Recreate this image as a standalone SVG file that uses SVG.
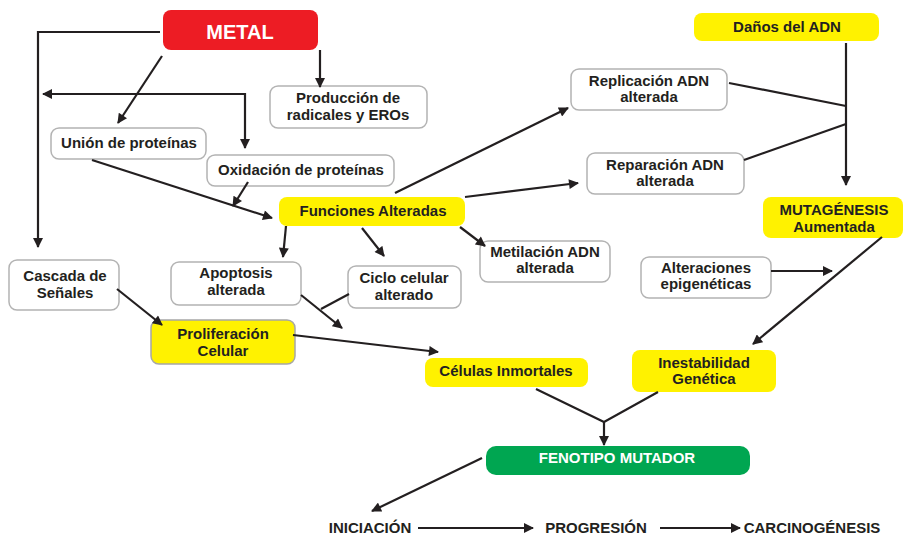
<svg xmlns="http://www.w3.org/2000/svg" width="904" height="536" viewBox="0 0 904 536">
<style>
.bx{fill:#ffffff;stroke:#b3b3b3;stroke-width:1.5}
.yl{fill:#fff200;stroke:none}
.ylb{fill:#fff200;stroke:#a7a7a7;stroke-width:1.5}
.t{font-family:"Liberation Sans",Arial,sans-serif;font-weight:bold;font-size:15px;fill:#231f20;text-anchor:middle}
.w{fill:#ffffff}
.c{fill:none;stroke:#231f20;stroke-width:2.2}
</style>
<defs>
<marker id="ah" viewBox="0 0 10 10" refX="9" refY="5" markerWidth="11" markerHeight="10" markerUnits="userSpaceOnUse" orient="auto-start-reverse">
<path d="M0,0 L10,5 L0,10 Z" fill="#231f20"/>
</marker>
</defs>
<rect width="904" height="536" fill="#ffffff"/>
<g id="metal"><rect x="163" y="10" width="155" height="40" rx="8" fill="#ed1c24"/><text class="t w" x="240" y="39" style="font-size:20px">METAL</text></g>
<g id="produccion"><rect class="bx" x="270" y="86" width="157" height="42" rx="8"/><text class="t" x="348" y="103">Producción de</text><text class="t" x="348" y="120">radicales y EROs</text></g>
<g id="union"><rect class="bx" x="51" y="128" width="155" height="31" rx="8"/><text class="t" x="129" y="148">Unión de proteínas</text></g>
<g id="oxidacion"><rect class="bx" x="207" y="155" width="187" height="31" rx="8"/><text class="t" x="301" y="175">Oxidación de proteínas</text></g>
<g id="funciones"><rect class="yl" x="279" y="197" width="186" height="29" rx="8"/><text class="t" x="373" y="216">Funciones Alteradas</text></g>
<g id="replicacion"><rect class="bx" x="571" y="69" width="156" height="41" rx="8"/><text class="t" x="649" y="86">Replicación ADN</text><text class="t" x="649" y="102">alterada</text></g>
<g id="reparacion"><rect class="bx" x="587" y="153" width="157" height="41" rx="8"/><text class="t" x="665" y="170">Reparación ADN</text><text class="t" x="665" y="186">alterada</text></g>
<g id="danos"><rect class="yl" x="694" y="13" width="185" height="28" rx="8"/><text class="t" x="787" y="32">Daños del ADN</text></g>
<g id="mutagenesis"><rect class="yl" x="763" y="197" width="140" height="41" rx="8"/><text class="t" x="834" y="215">MUTAGÉNESIS</text><text class="t" x="834" y="232">Aumentada</text></g>
<g id="alteraciones"><rect class="bx" x="641" y="257" width="130" height="41" rx="8"/><text class="t" x="706" y="273">Alteraciones</text><text class="t" x="706" y="289">epigenéticas</text></g>
<g id="metilacion"><rect class="bx" x="480" y="241" width="130" height="41" rx="8"/><text class="t" x="545" y="257">Metilación ADN</text><text class="t" x="545" y="273">alterada</text></g>
<g id="cascada"><rect class="bx" x="9" y="260" width="110" height="50" rx="8"/><text class="t" x="65" y="281">Cascada de</text><text class="t" x="65" y="298">Señales</text></g>
<g id="apoptosis"><rect class="bx" x="171" y="262" width="130" height="43" rx="8"/><text class="t" x="236" y="278">Apoptosis</text><text class="t" x="236" y="295">alterada</text></g>
<g id="ciclo"><rect class="bx" x="348" y="266" width="113" height="42" rx="8"/><text class="t" x="404" y="283">Ciclo celular</text><text class="t" x="404" y="300">alterado</text></g>
<g id="proliferacion"><rect class="ylb" x="151" y="320" width="144" height="44" rx="8"/><text class="t" x="223" y="339">Proliferación</text><text class="t" x="223" y="356">Celular</text></g>
<g id="celulas"><rect class="yl" x="425" y="358" width="163" height="29" rx="8"/><text class="t" x="506" y="376">Células Inmortales</text></g>
<g id="inestabilidad"><rect class="yl" x="632" y="350" width="144" height="42" rx="8"/><text class="t" x="704" y="368">Inestabilidad</text><text class="t" x="704" y="384">Genética</text></g>
<g id="fenotipo"><rect x="486" y="446" width="264" height="29" rx="10" fill="#00a651"/><text class="t w" x="617" y="463">FENOTIPO MUTADOR</text></g>
<g id="iniciacion"><text class="t" x="370" y="533">INICIACIÓN</text></g>
<g id="progresion"><text class="t" x="596" y="533">PROGRESIÓN</text></g>
<g id="carcinogenesis"><text class="t" x="812" y="533">CARCINOGÉNESIS</text></g>
<g id="connectors">
<path class="c" d="M160,32 H38 V247" marker-end="url(#ah)"/>
<path class="c" d="M162,56 L118,123" marker-end="url(#ah)"/>
<path class="c" d="M320,50 V87" marker-end="url(#ah)"/>
<path class="c" d="M43,94 H245 V148" marker-start="url(#ah)" marker-end="url(#ah)"/>
<path class="c" d="M92,160 L272,218" marker-end="url(#ah)"/>
<path class="c" d="M248,182 L233,206" marker-end="url(#ah)"/>
<path class="c" d="M286,226 L283,257" marker-end="url(#ah)"/>
<path class="c" d="M362,228 L384,256" marker-end="url(#ah)"/>
<path class="c" d="M460,227 L485,246" marker-end="url(#ah)"/>
<path class="c" d="M395,193 L568,108" marker-end="url(#ah)"/>
<path class="c" d="M465,197 L578,183" marker-end="url(#ah)"/>
<path class="c" d="M846,43 V185" marker-end="url(#ah)"/>
<path class="c" d="M729,83 L846,106"/>
<path class="c" d="M744,160 L846,124"/>
<path class="c" d="M882,237 L753,344" marker-end="url(#ah)"/>
<path class="c" d="M771,271 H832" marker-end="url(#ah)"/>
<path class="c" d="M117,289 L162,325" marker-end="url(#ah)"/>
<path class="c" d="M301,295 L342,328" marker-end="url(#ah)"/>
<path class="c" d="M349,294 L321,309"/>
<path class="c" d="M293,335 L438,352" marker-end="url(#ah)"/>
<path class="c" d="M536,389 L604,422 L658,392"/>
<path class="c" d="M604,422 V445" marker-end="url(#ah)"/>
<path class="c" d="M482,458 L372,511" marker-end="url(#ah)"/>
<path class="c" d="M418,528 H533" marker-end="url(#ah)"/>
<path class="c" d="M660,528 H740" marker-end="url(#ah)"/>
</g>
</svg>
